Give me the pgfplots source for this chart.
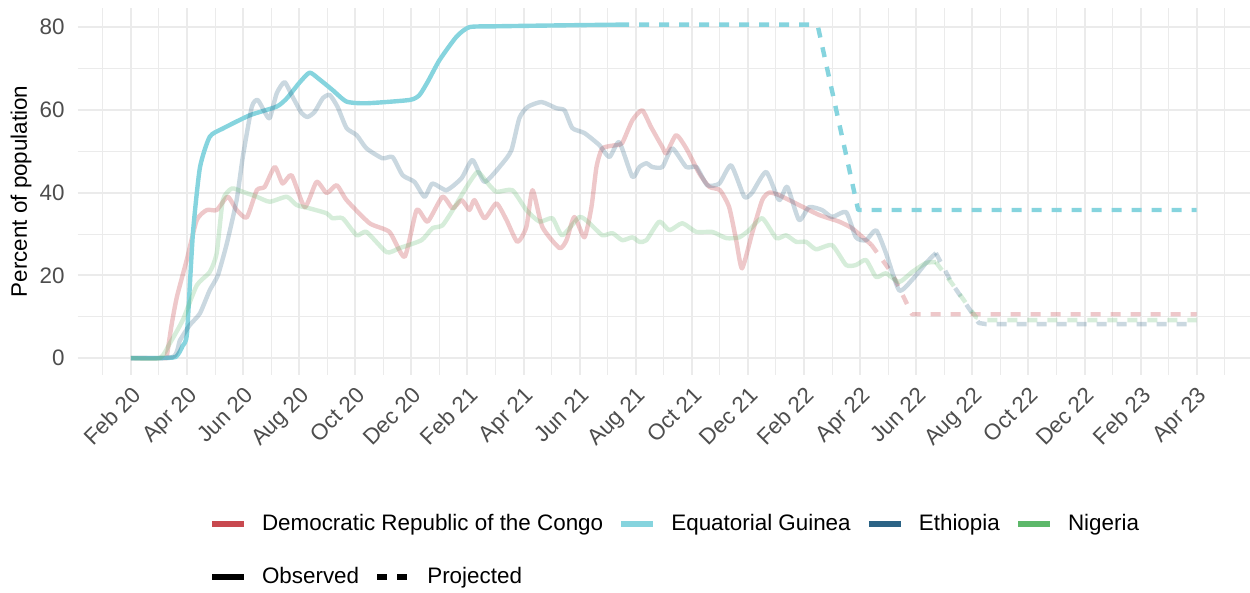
\documentclass[border=0pt]{standalone}
\usepackage{fontspec}
\setmainfont{Liberation Sans}
\usepackage{pgfplots}
\pgfplotsset{compat=1.18}

\definecolor{drc}{HTML}{C8494F}
\definecolor{eqg}{HTML}{86D4DE}
\definecolor{eth}{HTML}{2B6385}
\definecolor{nig}{HTML}{5DB86A}
\definecolor{gridc}{HTML}{EBEBEB}
\definecolor{tickc}{HTML}{4D4D4D}

\newcommand{\fs}{\fontsize{11.2}{13.4}\selectfont}

\begin{document}
\begin{tikzpicture}
\useasboundingbox (-38.8pt,-109.1pt) rectangle (586.2pt,187.4pt);
\begin{axis}[
  at={(0,0)}, anchor=south west,
  scale only axis, width=586.2pt, height=183.4pt,
  xmin=-1.9, xmax=39.9, ymin=-4.03, ymax=84.63,
  axis line style={draw=none},
  tick style={draw=none},
  major tick length=0pt, minor tick length=0pt,
  xtick={0,2,...,38},
  xticklabels={Feb 20, Apr 20, Jun 20, Aug 20, Oct 20, Dec 20, Feb 21, Apr 21, Jun 21, Aug 21, Oct 21, Dec 21, Feb 22, Apr 22, Jun 22, Aug 22, Oct 22, Dec 22, Feb 23, Apr 23},
  minor xtick={-1,1,...,39},
  ytick={0,20,40,60,80},
  minor ytick={10,30,50,70},
  grid=both,
  major grid style={gridc, line width=1pt},
  minor grid style={gridc, line width=0.5pt},
  ticklabel style={font=\fs, text=tickc},
  xticklabel style={rotate=45, anchor=north east, inner sep=0pt},
  yticklabel style={anchor=east, inner sep=0pt},
  xticklabel shift=5pt,
  yticklabel shift=6.3pt,
  /pgf/number format/assume math mode=true,
  ylabel={Percent of population},
  every axis y label/.style={at={([xshift=-28.3pt]rel axis cs:0,0.5)}, rotate=90, anchor=center, font=\fs, text=black},
  legend columns=4,
  legend cell align=left,
  legend image code/.code={\draw[#1] (0pt,0pt) -- (16pt,0pt);},
  legend style={at={(rel axis cs:0.1121,-0.407)}, anchor=west, draw=none, fill=none,
    inner sep=0pt, outer sep=0pt,
    nodes={inner sep=0pt, font=\fs},
    /tikz/every odd column/.style={column sep=7.5pt},
    /tikz/every even column/.style={column sep=7.6pt}},
  every axis plot/.append style={line width=2.2pt, line join=round},
]
% ---------- DRC ----------
\addplot[drc, opacity=0.3, smooth, tension=0.35, forget plot] coordinates {
(0,0) (1.2,0) (1.28,0.5) (1.45,8) (1.64,14.8) (1.99,23.7) (2.35,33.4) (2.71,35.8) (3.06,35.8) (3.45,39) (3.77,35.8) (4.13,34) (4.49,40.6) (4.77,41.4) (5.13,46.2) (5.41,42.2) (5.73,44.2) (6.2,36.5) (6.62,42.6) (6.98,39.9) (7.34,41.8) (7.69,38.2) (8.51,32.6) (9.22,30.5) (9.76,24.5) (10.19,35.8) (10.58,33) (11.11,39) (11.47,36.2) (11.79,38.2) (12.07,35.8) (12.25,38.2) (12.61,33.8) (13.03,37.4) (13.39,33.4) (13.78,28.1) (14.1,31.7) (14.32,40.6) (14.67,31.7) (15.28,26.6) (15.53,28.5) (15.81,34.1) (16.17,29.2) (16.42,36.5) (16.6,46.2) (16.81,50.7) (17.31,51.5) (17.52,52) (17.88,57.5) (18.23,59.9) (18.55,55.8) (18.95,51) (19.09,49.5) (19.44,53.9) (19.8,50.7) (20.26,44.7) (20.62,41.4) (21.0,40.6) (21.33,36.5) (21.58,28.5) (21.79,21.7) (22.15,30.2) (22.51,38.2) (22.76,40) (23.11,39.4) (23.82,37) (24.54,34.6) (25.25,33) (25.71,31.4) (26.21,28.5) (26.39,27.5)
};
\addplot[drc, opacity=0.3, dash pattern=on 5pt off 5pt, forget plot] coordinates {
(26.39,27.5) (27.14,20.5) (27.85,10.6) (38,10.6)
};
% ---------- Equatorial Guinea ----------
\addplot[eqg, smooth, tension=0.35, forget plot] coordinates {
(0,0) (1.0,0) (1.6,0.3) (1.85,3) (2.0,6) (2.21,30) (2.46,46) (2.81,53.5) (3.28,55.5) (4.24,58.7) (5.2,60.8) (5.56,62.8) (6.0,66.5) (6.37,69) (6.7,67.5) (7.19,64.8) (7.69,62) (8.4,61.6) (9.94,62.4) (10.29,63.6) (10.6,67) (11.0,72) (11.61,77.7) (12.07,80) (13,80.2) (15,80.4) (17.41,80.6)
};
\addplot[eqg, dash pattern=on 5pt off 5pt, forget plot] coordinates {
(17.41,80.6) (24.3,80.6) (24.5,80) (25.93,35.8) (38,35.8)
};
% ---------- Ethiopia ----------
\addplot[eth, opacity=0.25, smooth, tension=0.35, forget plot] coordinates {
(0,0) (1.5,0.3) (1.75,4.3) (2.1,8) (2.46,10.8) (2.81,16.4) (3.1,20) (3.42,27.7) (3.77,38.2) (3.99,48.6) (4.31,60.7) (4.52,62.4) (4.77,59.5) (4.95,58) (5.2,64) (5.48,66.7) (5.77,63.1) (6.09,59.2) (6.3,58.3) (6.55,59.5) (6.84,62.8) (7.09,63.6) (7.37,60.7) (7.69,55.6) (8.05,53.9) (8.4,50.7) (8.97,48.3) (9.33,48.6) (9.69,44.2) (10.11,42.6) (10.47,39) (10.75,42.2) (11.25,40.6) (11.79,43.5) (12.18,47.9) (12.61,42.6) (13.25,47.1) (13.57,50.3) (13.85,58) (14.14,60.7) (14.64,61.9) (15.17,60.4) (15.46,59.9) (15.74,55.6) (16.17,54.4) (16.7,51.5) (17.06,48.6) (17.41,52.2) (17.88,43.8) (18.13,46.2) (18.38,47.1) (18.59,46.2) (18.95,46.2) (19.3,50.7) (19.8,46.2) (20.16,46.2) (20.55,41.8) (20.98,42.2) (21.4,46.6) (21.87,39) (22.15,40) (22.65,45) (23.11,38.2) (23.4,41.4) (23.82,33.4) (24.18,36.5) (24.64,35.8) (25.0,34.1) (25.5,35.3) (25.85,29.2) (26.21,28.5) (26.57,30.9) (26.92,25.4) (27.39,16.4) (27.85,18.9) (28.35,23) (28.7,25.4)
};
\addplot[eth, opacity=0.25, dash pattern=on 5pt off 5pt, forget plot] coordinates {
(28.7,25.4) (29.27,18.1) (30.23,8.5) (30.5,8.2) (38,8.2)
};
% ---------- Nigeria ----------
\addplot[nig, opacity=0.25, smooth, tension=0.35, forget plot] coordinates {
(0,0) (1.03,0) (1.39,3.6) (1.85,9.2) (2.35,17.6) (2.81,20.8) (3.06,25.4) (3.28,38.2) (3.6,41) (3.99,40.2) (4.49,39) (4.95,37.8) (5.56,39) (5.91,37) (6.37,36.2) (6.98,35) (7.19,33.8) (7.55,33.8) (8.05,29.7) (8.4,30.5) (9.12,25.6) (9.58,26.6) (10.36,28.5) (10.75,31.4) (11.11,32.1) (11.54,36.5) (11.97,41.4) (12.36,45) (12.68,42.6) (13.03,40.2) (13.6,40.6) (14.1,35.8) (14.57,33) (15.03,33.8) (15.38,29.7) (15.99,34.1) (16.35,32.6) (16.81,29.7) (17.17,30.2) (17.52,28.5) (17.88,29.2) (18.13,28.1) (18.38,28.5) (18.84,33) (19.2,30.9) (19.66,32.6) (20.16,30.5) (20.73,30.5) (21.23,29) (21.69,29.2) (22.04,30.9) (22.51,33.8) (23.01,29) (23.36,29.7) (23.72,28.1) (24.07,28.1) (24.43,26.3) (25.0,27.3) (25.5,22.5) (25.85,22.5) (26.21,23.7) (26.57,19.6) (26.92,20.5) (27.39,18.4) (27.85,20.8) (28.35,23) (28.7,23.2)
};
\addplot[nig, opacity=0.25, dash pattern=on 5pt off 5pt, forget plot] coordinates {
(28.7,23.2) (29.27,18.1) (30.13,9.9) (30.5,9.2) (38,9.2)
};
% ---------- legend ----------
\addlegendimage{drc, line width=3pt}
\addlegendentry{Democratic Republic of the Congo}
\addlegendimage{eqg, line width=3pt}
\addlegendentry{Equatorial Guinea}
\addlegendimage{eth, line width=3pt}
\addlegendentry{Ethiopia}
\addlegendimage{nig, line width=3pt}
\addlegendentry{Nigeria}
\end{axis}

\begin{axis}[
  at={(0,0)}, anchor=south west,
  scale only axis, width=586.2pt, height=183.4pt,
  xmin=0, xmax=1, ymin=0, ymax=1,
  hide axis,
  legend columns=2,
  legend cell align=left,
  legend image code/.code={\draw[#1] (0pt,0pt) -- (16pt,0pt);},
  legend style={at={(rel axis cs:0.1121,-0.551)}, anchor=west, draw=none, fill=none,
    inner sep=0pt, outer sep=0pt,
    nodes={inner sep=0pt, font=\fs},
    /tikz/every odd column/.style={column sep=7.5pt},
    /tikz/every even column/.style={column sep=7.6pt}},
]
\addlegendimage{black, line width=3pt}
\addlegendentry{Observed}
\addlegendimage{black, line width=3pt, dash pattern=on 5pt off 5pt}
\addlegendentry{Projected}
\end{axis}
\end{tikzpicture}
\end{document}
